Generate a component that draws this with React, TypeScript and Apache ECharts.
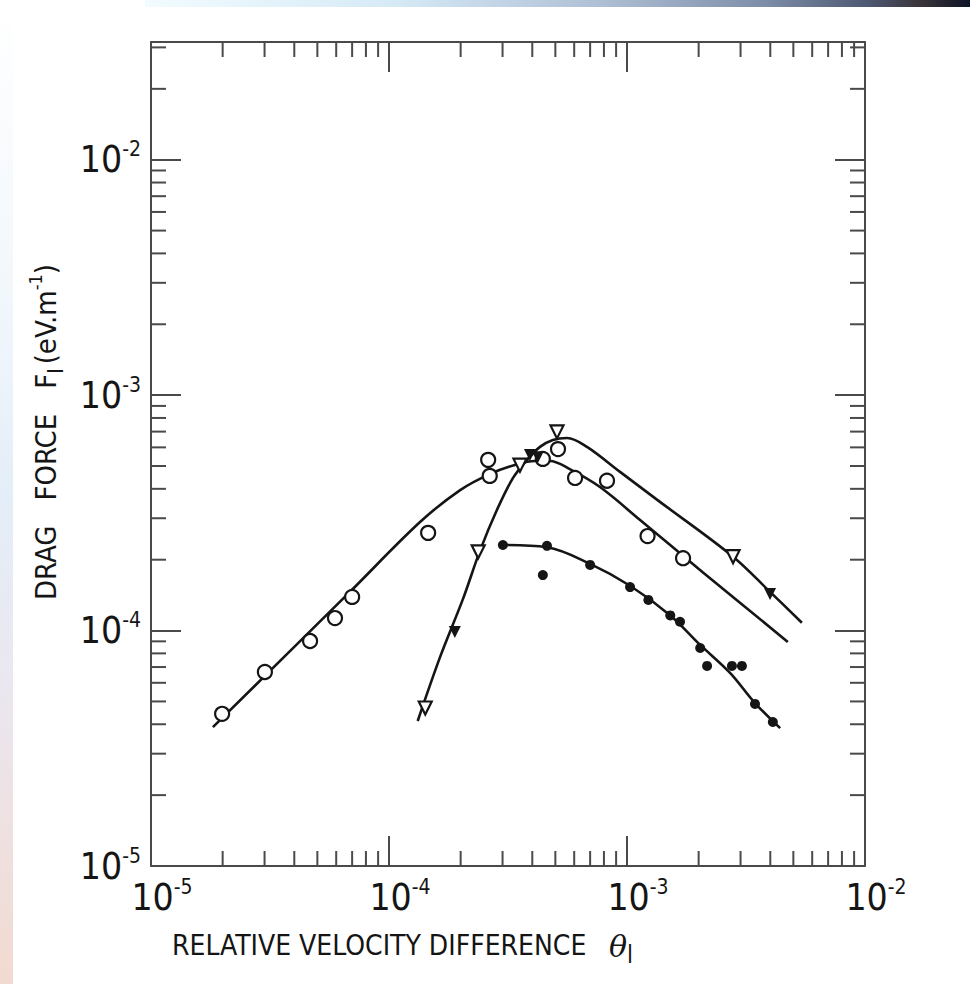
import React, { useEffect, useRef } from "react";
import * as echarts from "echarts";

// ---- axis ranges / tick labels ----
const X_MIN = 1e-5;
const X_MAX = 1e-2;
const Y_MIN = 1e-5;
const Y_MAX = Math.pow(10, -1.5);
const xTickExponents = [-5, -4, -3, -2];
const yTickExponents = [-5, -4, -3, -2];
const minorMultipliers = [2, 3, 4, 5, 6, 7, 8, 9];

// ---- measured points (theta_l, F_l) ----
const openCircles: [number, number][] = [
  [1.99e-5, 4.43e-5],
  [3.01e-5, 6.67e-5],
  [4.66e-5, 9.03e-5],
  [5.93e-5, 1.13e-4],
  [7.0e-5, 1.39e-4],
  [1.46e-4, 2.6e-4],
  [2.61e-4, 5.31e-4],
  [2.65e-4, 4.54e-4],
  [4.43e-4, 5.36e-4],
  [5.13e-4, 5.9e-4],
  [6.05e-4, 4.45e-4],
  [8.24e-4, 4.33e-4],
  [1.22e-3, 2.52e-4],
  [1.72e-3, 2.03e-4],
];

const openTriangles: [number, number][] = [
  [1.42e-4, 4.69e-5],
  [2.37e-4, 2.16e-4],
  [3.55e-4, 5.04e-4],
  [5.08e-4, 6.98e-4],
  [2.79e-3, 2.06e-4],
];

const filledTriangles: [number, number][] = [
  [1.89e-4, 9.86e-5],
  [3.91e-4, 5.57e-4],
  [4.22e-4, 5.45e-4],
  [3.99e-3, 1.43e-4],
];

const filledDots: [number, number][] = [
  [3.01e-4, 2.31e-4],
  [4.61e-4, 2.29e-4],
  [4.43e-4, 1.72e-4],
  [7.0e-4, 1.9e-4],
  [1.03e-3, 1.53e-4],
  [1.23e-3, 1.35e-4],
  [1.52e-3, 1.16e-4],
  [1.67e-3, 1.09e-4],
  [2.03e-3, 8.43e-5],
  [2.17e-3, 7.08e-5],
  [2.76e-3, 7.08e-5],
  [3.04e-3, 7.08e-5],
  [3.45e-3, 4.88e-5],
  [4.1e-3, 4.09e-5],
];

// ---- fitted curves ----
const curveA: [number, number][] = [
  [1.82e-5, 3.89e-5],
  [6.85e-5, 1.46e-4],
  [1.35e-4, 2.89e-4],
  [1.99e-4, 3.95e-4],
  [2.65e-4, 4.62e-4],
  [3.38e-4, 5.05e-4],
  [4.1e-4, 5.25e-4],
  [4.74e-4, 5.25e-4],
  [5.75e-4, 4.85e-4],
  [7.7e-4, 4.07e-4],
  [1.135e-3, 2.95e-4],
  [2.08e-3, 1.77e-4],
  [4.74e-3, 8.95e-5],
];

const curveB: [number, number][] = [
  [1.32e-4, 4.13e-5],
  [1.64e-4, 7.73e-5],
  [2.05e-4, 1.37e-4],
  [2.41e-4, 2.18e-4],
  [2.84e-4, 3.25e-4],
  [3.32e-4, 4.45e-4],
  [3.8e-4, 5.31e-4],
  [4.31e-4, 6.03e-4],
  [4.88e-4, 6.45e-4],
  [5.6e-4, 6.58e-4],
  [6.79e-4, 6.03e-4],
  [9.35e-4, 4.72e-4],
  [1.34e-3, 3.59e-4],
  [2.79e-3, 2.06e-4],
  [3.99e-3, 1.46e-4],
  [5.43e-3, 1.08e-4],
];

const curveC: [number, number][] = [
  [2.99e-4, 2.31e-4],
  [4.61e-4, 2.26e-4],
  [7.0e-4, 1.92e-4],
  [1.03e-3, 1.55e-4],
  [1.52e-3, 1.16e-4],
  [2.03e-3, 8.69e-5],
  [2.71e-3, 6.61e-5],
  [3.45e-3, 4.92e-5],
  [4.4e-3, 3.85e-5],
];

const FONT = '"DejaVu Sans Condensed", "Liberation Sans Narrow", "Liberation Sans", sans-serif';
const INK = "#151515";
const FRAME = "#4a4a4a";
const MINOR_LEN = 15;
const MAJOR_LEN = 30;

type MinorTick = { axis: "x" | "y"; v: number };

function buildMinorTicks(): MinorTick[] {
  const out: MinorTick[] = [];
  for (const e of xTickExponents.slice(0, -1)) {
    for (const m of minorMultipliers) out.push({ axis: "x", v: m * Math.pow(10, e) });
  }
  for (const e of yTickExponents) {
    for (const m of minorMultipliers) {
      const v = m * Math.pow(10, e);
      if (v < Y_MAX) out.push({ axis: "y", v });
    }
  }
  return out;
}

function labelFormatter(exps: number[]) {
  return (v: number) => {
    const l = Math.log10(v);
    const e = Math.round(l);
    if (Math.abs(l - e) > 1e-6 || exps.indexOf(e) < 0) return "";
    return `{b|10}{s|${e}}`;
  };
}

const labelRich = {
  b: { fontFamily: FONT, fontSize: 37, lineHeight: 42, color: INK },
  s: { fontFamily: FONT, fontSize: 21, lineHeight: 21, color: INK, verticalAlign: "top" as const },
};

export default function App() {
  const ref = useRef<HTMLDivElement>(null);

  useEffect(() => {
    if (!ref.current) return;
    const chart = echarts.init(ref.current, undefined, { renderer: "svg" });
    const minorTicks = buildMinorTicks();

    const tickStyle = { stroke: FRAME, lineWidth: 2 };

    const baseX = {
      type: "log" as const,
      logBase: 10,
      min: X_MIN,
      max: X_MAX,
      splitLine: { show: false },
      minorTick: { show: false },
      axisLine: { show: true, onZero: false, lineStyle: { color: FRAME, width: 2 } },
      axisTick: { show: true, inside: true, length: MAJOR_LEN, lineStyle: { color: FRAME, width: 2 } },
    };
    const baseY = {
      type: "log" as const,
      logBase: 10,
      min: Y_MIN,
      max: Y_MAX,
      splitLine: { show: false },
      minorTick: { show: false },
      axisLine: { show: true, onZero: false, lineStyle: { color: FRAME, width: 2 } },
      axisTick: { show: true, inside: true, length: MAJOR_LEN, lineStyle: { color: FRAME, width: 2 } },
    };

    const lineSeries = (name: string, data: [number, number][]) => ({
      type: "line",
      name,
      data,
      smooth: 0.35,
      showSymbol: false,
      symbol: "none",
      lineStyle: { color: INK, width: 2.6 },
      z: 3,
      silent: true,
    });

    chart.setOption({
      animation: false,
      backgroundColor: "#ffffff",
      grid: { left: 151, right: 105, top: 42, bottom: 118, containLabel: false },
      xAxis: [
        {
          ...baseX,
          position: "bottom",
          axisLabel: {
            show: true,
            margin: 10,
            padding: [0, 0, 0, 22],
            formatter: labelFormatter(xTickExponents),
            rich: labelRich,
            showMaxLabel: true,
            showMinLabel: true,
          },
        },
        { ...baseX, position: "top", axisLabel: { show: false } },
      ],
      yAxis: [
        {
          ...baseY,
          position: "left",
          axisLabel: {
            show: true,
            margin: 10,
            formatter: labelFormatter(yTickExponents),
            rich: labelRich,
          },
        },
        { ...baseY, position: "right", axisLabel: { show: false } },
      ],
      series: [
        {
          type: "custom",
          name: "minor ticks",
          silent: true,
          z: 2,
          data: minorTicks.map((t) => (t.axis === "x" ? [t.v, 1e-4] : [1e-4, t.v])),
          renderItem: (params: any, api: any) => {
            const t = minorTicks[params.dataIndex];
            if (t.axis === "x") {
              const pb = api.coord([t.v, Y_MIN]);
              const pt = api.coord([t.v, Y_MAX]);
              return {
                type: "group",
                children: [
                  { type: "line", shape: { x1: pb[0], y1: pb[1], x2: pb[0], y2: pb[1] - MINOR_LEN }, style: tickStyle },
                  { type: "line", shape: { x1: pt[0], y1: pt[1], x2: pt[0], y2: pt[1] + MINOR_LEN }, style: tickStyle },
                ],
              };
            }
            const pl = api.coord([X_MIN, t.v]);
            const pr = api.coord([X_MAX, t.v]);
            return {
              type: "group",
              children: [
                { type: "line", shape: { x1: pl[0], y1: pl[1], x2: pl[0] + MINOR_LEN, y2: pl[1] }, style: tickStyle },
                { type: "line", shape: { x1: pr[0], y1: pr[1], x2: pr[0] - MINOR_LEN, y2: pr[1] }, style: tickStyle },
              ],
            };
          },
        },
        lineSeries("curve A", curveA),
        lineSeries("curve B", curveB),
        lineSeries("curve C", curveC),
        {
          type: "scatter",
          name: "open circles",
          data: openCircles,
          symbol: "circle",
          symbolSize: 14,
          itemStyle: { color: "#ffffff", borderColor: INK, borderWidth: 2.2, opacity: 1 },
          z: 5,
        },
        {
          type: "scatter",
          name: "open triangles",
          data: openTriangles,
          symbol: "triangle",
          symbolRotate: 180,
          symbolSize: 13,
          itemStyle: { color: "#ffffff", borderColor: INK, borderWidth: 2.2, opacity: 1 },
          z: 5,
        },
        {
          type: "scatter",
          name: "filled triangles",
          data: filledTriangles,
          symbol: "triangle",
          symbolRotate: 180,
          symbolSize: 12,
          itemStyle: { color: INK, opacity: 1 },
          z: 5,
        },
        {
          type: "scatter",
          name: "filled dots",
          data: filledDots,
          symbol: "circle",
          symbolSize: 10,
          itemStyle: { color: INK, opacity: 1 },
          z: 5,
        },
      ],
      graphic: [
        {
          type: "rect",
          silent: true,
          z: -10,
          shape: { x: 145, y: 0, width: 825, height: 7 },
          style: {
            fill: new echarts.graphic.LinearGradient(0, 0, 1, 0, [
              { offset: 0, color: "#f2fcff" },
              { offset: 0.3, color: "#d6eaf6" },
              { offset: 0.55, color: "#afc0d6" },
              { offset: 0.75, color: "#7e8ea8" },
              { offset: 0.88, color: "#4c5670" },
              { offset: 0.94, color: "#3a3438" },
              { offset: 1, color: "#0e1428" },
            ]),
          },
        },
        {
          type: "rect",
          silent: true,
          z: -10,
          shape: { x: 0, y: 0, width: 13, height: 984 },
          style: {
            fill: new echarts.graphic.LinearGradient(0, 0, 0, 1, [
              { offset: 0, color: "#ffffff" },
              { offset: 0.3, color: "#f2f7fc" },
              { offset: 0.5, color: "#e4eef8" },
              { offset: 0.72, color: "#ebe6ee" },
              { offset: 1, color: "#f2dad0" },
            ]),
          },
        },
        {
          type: "text",
          silent: true,
          x: 172,
          y: 945,
          style: {
            text: "RELATIVE VELOCITY DIFFERENCE",
            fontFamily: FONT,
            fontSize: 28,
            fill: INK,
            align: "left",
            verticalAlign: "middle",
          },
        },
        {
          type: "text",
          silent: true,
          x: 609,
          y: 946,
          style: {
            text: "{t|θ}{sub|l}",
            align: "left",
            verticalAlign: "middle",
            rich: {
              t: { fontFamily: "DejaVu Serif, serif", fontStyle: "italic", fontSize: 30, lineHeight: 42, fill: INK },
              sub: { fontFamily: FONT, fontSize: 24, lineHeight: 24, verticalAlign: "bottom", fill: INK },
            },
          },
        },
        {
          type: "text",
          silent: true,
          x: 46,
          y: 432,
          rotation: Math.PI / 2,
          style: {
            text: "{t|DRAG   FORCE   F}{sub|l}{t|(eV.m}{sup|-1}{t|)}",
            align: "center",
            verticalAlign: "middle",
            rich: {
              t: { fontFamily: FONT, fontSize: 29, lineHeight: 40, fill: INK },
              sub: { fontFamily: FONT, fontSize: 22, lineHeight: 22, verticalAlign: "bottom", fill: INK, padding: [0, 4, 0, 0] },
              sup: { fontFamily: FONT, fontSize: 18, lineHeight: 18, verticalAlign: "top", fill: INK },
            },
          },
        },
      ],
    } as any);

    return () => chart.dispose();
  }, []);

  return (
    <div
      ref={ref}
      style={{ position: "absolute", left: 0, top: 0, width: 970, height: 984, background: "#fff" }}
    />
  );
}
